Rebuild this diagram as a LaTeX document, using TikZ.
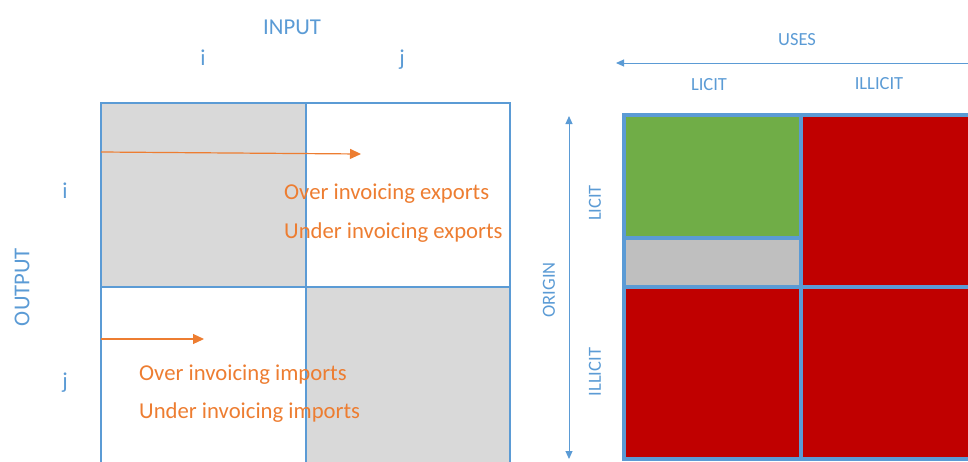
\documentclass[tikz,border=0pt]{standalone}
\usepackage{fontspec}
\setmainfont{Carlito}
\usetikzlibrary{arrows.meta}
\definecolor{azzurro}{HTML}{5B9BD5}
\definecolor{arancio}{HTML}{ED7D31}
\definecolor{grigio}{HTML}{D9D9D9}
\definecolor{grigioscuro}{HTML}{BFBFBF}
\definecolor{verde}{HTML}{70AD47}
\definecolor{rosso}{HTML}{C00000}
\begin{document}
\begin{tikzpicture}[x=1pt, y=-1pt, >={Triangle[length=11pt,width=10pt]},
    grande/.style={font=\fontsize{22.7}{26}\selectfont},
    piccolo/.style={font=\fontsize{18.5}{22}\selectfont},
    blu/.style={text=azzurro, inner sep=0pt},
    ara/.style={text=arancio, inner sep=0pt, anchor=base west}]
    % --- Cornice ---
    \useasboundingbox (0,0) rectangle (968,461);

    % --- Matrice input-output ---
    \fill[grigio] (101,103) rectangle (306,287);
    \fill[grigio] (306,287) rectangle (510,470);
    \draw[azzurro, line width=1.5pt] (101,470) -- (101,103) -- (510,103) -- (510,470);
    \draw[azzurro, line width=1.5pt] (306,103) -- (306,470);
    \draw[azzurro, line width=1.5pt] (101,287) -- (510,287);

    % Etichette
    \node[blu, grande] (input) at (292,27) {INPUT};
    \node[blu, grande, anchor=base] (ci) at (203,65) {i};
    \node[blu, grande, anchor=base] (cj) at (402,65) {j};
    \node[blu, grande, anchor=base] (ri) at (65,198) {i};
    \node[blu, grande, anchor=base] (rj) at (65,388) {j};
    \node[blu, grande, rotate=90] (output) at (22,287) {OUTPUT};

    % Frecce e testi arancioni
    \coordinate (a1) at (101,152);
    \coordinate (b1) at (361,154);
    \coordinate (a2) at (101,339);
    \coordinate (b2) at (204,339);
    \draw[->, arancio, line width=1.2pt] (a1) -- (b1);
    \draw[->, arancio, line width=1.2pt] (a2) -- (b2);
    \node[ara, grande] (oex) at (284,199) {Over invoicing exports};
    \node[ara, grande] (uex) at (284,238) {Under invoicing exports};
    \node[ara, grande] (oim) at (139,380) {Over invoicing imports};
    \node[ara, grande] (uim) at (139,418) {Under invoicing imports};

    % --- Matrice origine-usi ---
    \fill[verde] (624,115) rectangle (801,238);
    \fill[grigioscuro] (624,238) rectangle (801,287);
    \fill[rosso] (801,115) rectangle (990,287);
    \fill[rosso] (624,287) rectangle (990,459);
    \draw[azzurro, line width=3.2pt] (624,115) rectangle (990,459);
    \draw[azzurro, line width=3.2pt] (801,115) -- (801,459);
    \draw[azzurro, line width=3.2pt] (624,287) -- (990,287);
    \draw[azzurro, line width=3.2pt] (624,238) -- (801,238);

    % Usi (asse orizzontale)
    \node[blu, piccolo] (uses) at (797,40) {USES};
    \coordinate (u1) at (975,63);
    \coordinate (u2) at (616,63);
    \draw[->, azzurro, line width=1pt, >={Triangle[length=8pt,width=7pt]}] (u1) -- (u2);
    \node[blu, piccolo] (ulicit) at (709,85) {LICIT};
    \node[blu, piccolo] (uillicit) at (879,84) {ILLICIT};

    % Origine (asse verticale)
    \coordinate (o1) at (569,116);
    \coordinate (o2) at (569,459);
    \draw[<->, azzurro, line width=1pt, >={Triangle[length=8pt,width=7pt]}] (o1) -- (o2);
    \node[blu, piccolo, rotate=90] (origin) at (549,290) {ORIGIN};
    \node[blu, piccolo, rotate=90] (olicit) at (595,203) {LICIT};
    \node[blu, piccolo, rotate=90] (oillicit) at (595,372) {ILLICIT};
\end{tikzpicture}
\end{document}
